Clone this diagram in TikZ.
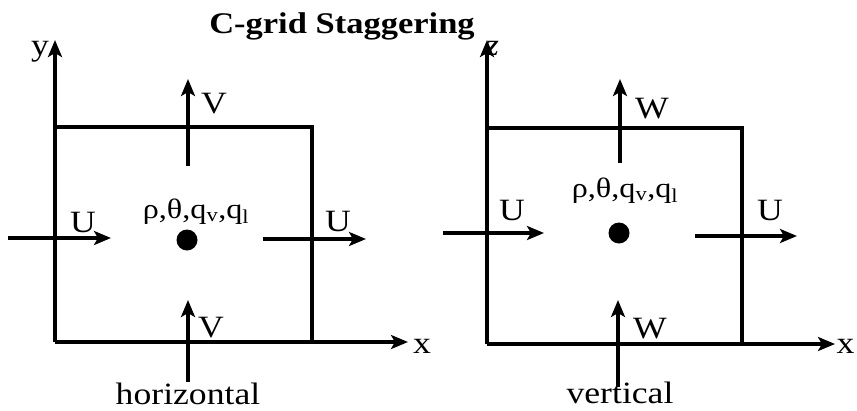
\documentclass[tikz,border=0pt]{standalone}
\usepackage{fontspec}
\setmainfont[FakeStretch=1.15]{Liberation Serif}
\usetikzlibrary{arrows.meta}
\begin{document}
\begin{tikzpicture}[x=1pt,y=-1pt,line width=3.2pt,
  arr/.style={-{Stealth[length=17pt,width=14pt,inset=4pt]}},
  lab/.style={font=\fontsize{31}{34}\selectfont,inner sep=0pt,anchor=base},
  var/.style={font=\fontsize{28}{32}\selectfont,inner sep=0pt,anchor=base},
  dotnode/.style={circle,fill,inner sep=0pt,minimum size=21pt},
  frame/.style={line width=3.2pt,line join=miter}]
\useasboundingbox (0,0) rectangle (857,410);

% title
\node[lab,font=\bfseries\fontsize{30}{34}\selectfont] (title) at (342,33) {C-grid Staggering};

% ---------- left panel (horizontal) ----------
\coordinate (LO) at (55,342);
\coordinate (LY) at (55,40);
\coordinate (LX) at (408,342);
\coordinate (LC) at (312,127);
\draw[arr] (LO) -- (LY);
\draw[arr] (LO) -- (LX);
\draw[frame] (LO |- LC) -- (LC) -- (LC |- LO);
\node[lab] (ly) at (40,55) {y};
\node[lab] (lx) at (422,353) {x};

\coordinate (LVa) at (188,166);
\coordinate (LVb) at (188,79);
\draw[arr] (LVa) -- (LVb);
\node[lab] (LVl) at (214,113) {V};

\coordinate (LWa) at (188,382);
\coordinate (LWb) at (188,300);
\draw[arr] (LWa) -- (LWb);
\node[lab] (LWl) at (211,337) {V};
\node[lab] (hor) at (188,404) {horizontal};

\coordinate (LUa) at (8,238);
\coordinate (LUb) at (111,238);
\draw[arr] (LUa) -- (LUb);
\node[lab] (LUl) at (83,232) {U};

\coordinate (LRa) at (263,239);
\coordinate (LRb) at (366,239);
\draw[arr] (LRa) -- (LRb);
\node[lab] (LRl) at (338,231) {U};

\node[dotnode] (Ldot) at (187,240) {};
\node[var] (Lvar) at (196,218) {ρ,θ,q\textsubscript{v},q\textsubscript{l}};

% ---------- right panel (vertical) ----------
\coordinate (RO) at (487,344);
\coordinate (RZ) at (487,40);
\coordinate (RX) at (835,344);
\coordinate (RC) at (742,128);
\draw[arr] (RO) -- (RZ);
\draw[arr] (RO) -- (RX);
\draw[frame] (RO |- RC) -- (RC) -- (RC |- RO);
\node[lab,font=\itshape\fontsize{31}{34}\selectfont] (rz) at (492,55) {z};
\node[lab,anchor=base east] (rx) at (856,353) {x};

\coordinate (RVa) at (620,163);
\coordinate (RVb) at (620,79);
\draw[arr] (RVa) -- (RVb);
\node[lab] (RVl) at (652,118) {W};

\coordinate (RWa) at (618,387);
\coordinate (RWb) at (618,300);
\draw[arr] (RWa) -- (RWb);
\node[lab] (RWl) at (650,338) {W};
\node[lab] (ver) at (620,403) {vertical};

\coordinate (RUa) at (443,233);
\coordinate (RUb) at (544,233);
\draw[arr] (RUa) -- (RUb);
\node[lab] (RUl) at (512,220) {U};

\coordinate (RRa) at (695,236);
\coordinate (RRb) at (797,236);
\draw[arr] (RRa) -- (RRb);
\node[lab] (RRl) at (770,220) {U};

\node[dotnode] (Rdot) at (619,233) {};
\node[var] (Rvar) at (625,197) {ρ,θ,q\textsubscript{v},q\textsubscript{l}};
\end{tikzpicture}
\end{document}
